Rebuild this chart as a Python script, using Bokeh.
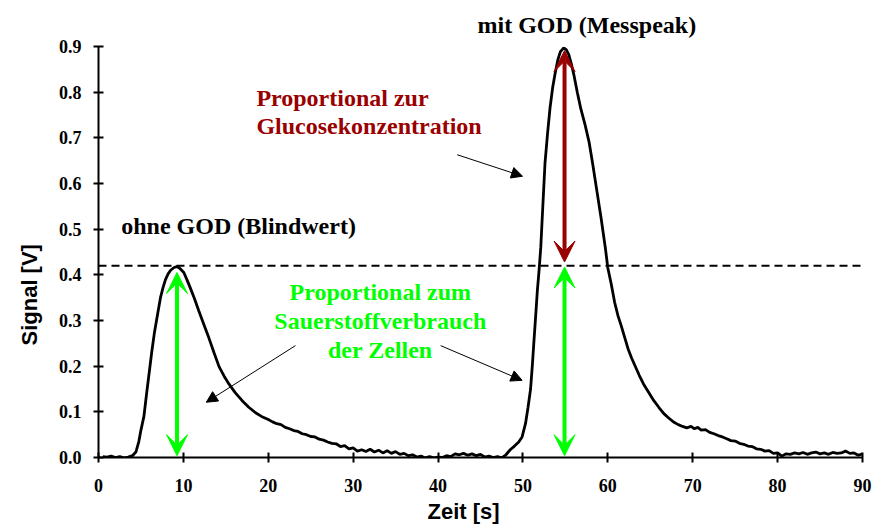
import math
from bokeh.plotting import figure
from bokeh.models import Range1d, FixedTicker, Label, Arrow, VeeHead, NormalHead, Span, Title
from bokeh.embed import file_html
from bokeh.resources import INLINE

# ---- data ----
time_s = [0.5, 1.0, 1.5, 2.0, 2.5, 3.0, 3.5, 4.0, 4.4, 4.75, 5.0, 5.35, 5.7, 6.0, 6.3, 6.6, 6.9, 7.3, 7.6, 7.9,
          8.2, 8.5, 8.9, 9.25, 9.6, 10.05, 10.4, 10.8, 11.3, 11.8, 12.4, 13.0, 13.6, 14.2, 14.8, 15.4, 16.1, 16.9,
          17.7, 18.5, 19.2, 20.0, 20.5, 21.0, 21.5, 22.0, 22.5, 23.0, 23.5, 24.0, 24.5, 25.0, 25.5, 26.0, 26.5,
          27.0, 27.5, 28.0, 28.5, 29.0, 29.5, 30.0, 30.5, 31.0, 31.5, 32.0, 32.5, 33.0, 33.5, 34.0, 34.5, 35.0,
          35.5, 36.0, 36.5, 37.0, 37.5, 38.0, 38.5, 39.0, 39.5, 40.0, 40.5, 41.0, 41.5, 42.0, 42.5, 43.0, 43.5,
          44.0, 44.5, 45.0, 45.5, 46.0, 46.5, 47.0, 47.5, 48.0, 48.5, 49.0, 49.5, 49.9, 50.3, 50.6, 50.9, 51.1,
          51.3, 51.5, 51.7, 51.9, 52.1, 52.3, 52.6, 52.9, 53.2, 53.5, 53.8, 54.1, 54.4, 54.8, 55.1, 55.4, 55.7,
          56.0, 56.4, 56.8, 57.3, 57.8, 58.2, 58.7, 59.2, 59.7, 60.0, 60.4, 60.8, 61.2, 61.6, 62.0, 62.4, 62.8,
          63.2, 63.7, 64.2, 64.8, 65.4, 66.0, 66.6, 67.2, 67.8, 68.3, 68.8, 69.3, 69.8, 70.2, 70.6, 71.0, 71.5,
          72.0, 72.5, 73.0, 73.5, 74.0, 74.5, 75.0, 75.5, 76.0, 76.5, 77.0, 77.5, 78.0, 78.5, 79.0, 79.5, 80.0,
          80.5, 81.0, 81.5, 82.0, 82.5, 83.0, 83.5, 84.0, 84.5, 85.0, 85.5, 86.0, 86.5, 87.0, 87.5, 88.0, 88.5,
          89.0, 89.5, 90.0]
signal_v = [0.002, 0.001, 0.003, 0.0, 0.002, -0.001, 0.001, 0.004, 0.012, 0.035, 0.06, 0.09, 0.145, 0.19, 0.235,
            0.275, 0.307, 0.35, 0.372, 0.39, 0.402, 0.41, 0.416, 0.418, 0.414, 0.405, 0.39, 0.372, 0.348, 0.322,
            0.292, 0.262, 0.23, 0.199, 0.178, 0.16, 0.142, 0.125, 0.11, 0.098, 0.09, 0.083, 0.078, 0.074, 0.072,
            0.066, 0.063, 0.059, 0.057, 0.052, 0.050, 0.046, 0.045, 0.040, 0.038, 0.034, 0.031, 0.030, 0.024,
            0.026, 0.019, 0.021, 0.014, 0.017, 0.013, 0.018, 0.012, 0.016, 0.010, 0.015, 0.009, 0.013, 0.007,
            0.009, 0.004, 0.006, 0.001, 0.003, -0.001, 0.002, -0.001, 0.001, 0.000, 0.004, 0.002, 0.008, 0.006,
            0.009, 0.005, 0.008, 0.004, 0.007, 0.001, 0.003, 0.000, 0.002, -0.001, 0.006, 0.017, 0.025, 0.034,
            0.045, 0.074, 0.11, 0.15, 0.20, 0.256, 0.31, 0.366, 0.41, 0.46, 0.535, 0.645, 0.71, 0.767, 0.81,
            0.842, 0.87, 0.888, 0.897, 0.893, 0.882, 0.862, 0.838, 0.80, 0.765, 0.73, 0.69, 0.645, 0.585, 0.525,
            0.46, 0.415, 0.38, 0.34, 0.31, 0.287, 0.262, 0.237, 0.218, 0.201, 0.18, 0.161, 0.143, 0.125, 0.11,
            0.096, 0.086, 0.077, 0.072, 0.068, 0.065, 0.068, 0.063, 0.066, 0.060, 0.061, 0.055, 0.052, 0.048,
            0.045, 0.041, 0.037, 0.036, 0.031, 0.029, 0.025, 0.024, 0.019, 0.018, 0.014, 0.015, 0.009, 0.010,
            0.003, 0.008, 0.007, 0.010, 0.008, 0.011, 0.007, 0.010, 0.012, 0.008, 0.010, 0.007, 0.011, 0.009,
            0.010, 0.014, 0.009, 0.010, 0.005, 0.008]

blank_level = 0.42          # dashed reference (Blindwert)
blank_peak_t = 9.25
meas_peak_t = 54.9

x_ticks = [0, 10, 20, 30, 40, 50, 60, 70, 80, 90]
y_ticks = [0.0, 0.1, 0.2, 0.3, 0.4, 0.5, 0.6, 0.7, 0.8, 0.9]
y_tick_labels = ["0.0", "0.1", "0.2", "0.3", "0.4", "0.5", "0.6", "0.7", "0.8", "0.9"]

GREEN = "#00ff00"
DARKRED = "#990000"
SERIF = "Liberation Serif"
SANS = "Liberation Sans"

p = figure(width=872, height=527, output_backend="svg", toolbar_location=None,
           x_range=Range1d(0, 90), y_range=Range1d(0, 0.9),
           min_border_left=98, min_border_right=10, min_border_top=46, min_border_bottom=70)
p.outline_line_color = None
p.xgrid.visible = False
p.ygrid.visible = False
p.background_fill_color = "white"

for ax in (p.xaxis[0], p.yaxis[0]):
    ax.axis_line_width = 2
    ax.axis_line_color = "black"
    ax.major_tick_line_width = 2
    ax.major_tick_in = 5
    ax.major_tick_out = 5
    ax.minor_tick_line_color = None
    ax.major_label_text_font = SERIF
    ax.major_label_text_font_style = "bold"
    ax.major_label_text_font_size = "18px"
    ax.major_label_text_color = "black"

p.xaxis.ticker = FixedTicker(ticks=x_ticks)
p.yaxis.ticker = FixedTicker(ticks=y_ticks)
p.yaxis.major_label_overrides = {t: s for t, s in zip(y_ticks, y_tick_labels)}
p.xaxis.major_label_standoff = 16
p.yaxis.major_label_standoff = 12

# dashed blank level
p.add_layout(Span(location=blank_level, dimension="width", line_color="black",
                  line_width=2, line_dash="8 5"))

# signal curve
p.line(time_s, signal_v, line_color="black", line_width=2.8)

# double arrows
def dbl_arrow(x, y0, y1, color):
    p.add_layout(Arrow(x_start=x, y_start=y0, x_end=x, y_end=y1, line_color=color, line_width=4,
                       start=VeeHead(size=21, fill_color=color, line_color=color, line_width=1),
                       end=VeeHead(size=21, fill_color=color, line_color=color, line_width=1)))

dbl_arrow(blank_peak_t, 0.004, 0.405, GREEN)
dbl_arrow(meas_peak_t, 0.004, 0.417, GREEN)
dbl_arrow(meas_peak_t, 0.428, 0.891, DARKRED)

def thin_arrow(x0, y0, x1, y1):
    p.add_layout(Arrow(x_start=x0, y_start=y0, x_end=x1, y_end=y1, line_color="black", line_width=1,
                       end=NormalHead(size=11, fill_color="black", line_color="black", line_width=1)))

thin_arrow(23.2, 0.245, 12.7, 0.121)
thin_arrow(40.3, 0.245, 49.9, 0.169)
thin_arrow(42.25, 0.663, 49.95, 0.616)

def label(x, y, text, color="black", align="center"):
    p.add_layout(Label(x=x, y=y, text=text, text_color=color, text_font=SERIF, text_font_style="bold",
                       text_font_size="24px", text_align=align, text_baseline="alphabetic"))

label(16.5, 0.506, "ohne GOD (Blindwert)")
label(18.6, 0.788, "Proportional zur", color=DARKRED, align="left")
label(18.6, 0.725, "Glucosekonzentration", color=DARKRED, align="left")
label(33.2, 0.362, "Proportional zum", color=GREEN)
label(33.2, 0.298, "Sauerstoffverbrauch", color=GREEN)
label(33.2, 0.235, "der Zellen", color=GREEN)

# texts outside the frame as side titles
p.add_layout(Title(text="mit GOD (Messpeak)", text_font=SERIF, text_font_style="bold", text_color="black",
                   text_font_size="24px", align="left", offset=379, standoff=18), "above")
p.add_layout(Title(text="Zeit [s]", text_font=SANS, text_font_style="bold", text_color="black",
                   text_font_size="22px", align="left", offset=329, standoff=4), "below")
p.add_layout(Title(text="Signal [V]", text_font=SANS, text_font_style="bold", text_color="black",
                   text_font_size="22px", align="left", offset=112, standoff=26,
                   vertical_align="middle"), "left")

open("out.html", "w").write(file_html(p, INLINE))
